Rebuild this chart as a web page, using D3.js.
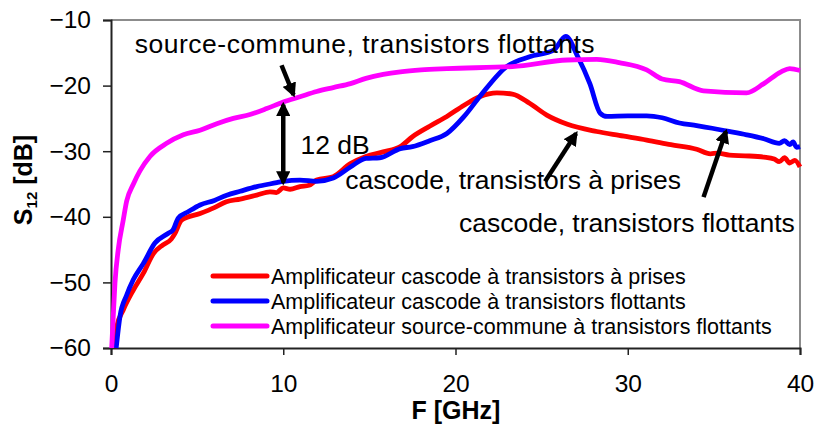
<!DOCTYPE html>
<html>
<head>
<meta charset="utf-8">
<script src="https://cdn.jsdelivr.net/npm/d3@7"></script>
<style>
  html, body { margin: 0; padding: 0; background: #fff; }
  svg { display: block; font-family: "Liberation Sans", Arial, sans-serif; }
</style>
</head>
<body>
<svg id="chart" width="816" height="427"></svg>
<script>
// ---- data ----
const xTicks = [0, 10, 20, 30, 40];
const yTicks = [-10, -20, -30, -40, -50, -60];

const seriesNames = [
  "Amplificateur cascode à transistors à prises",
  "Amplificateur cascode à transistors flottants",
  "Amplificateur source-commune à transistors flottants"
];
const seriesColors = ["#ff0000", "#0000ff", "#ff00ff"];

const redF = [0.23, 0.33, 0.71, 1.29, 1.88, 2.46, 3.0, 3.5, 3.7, 4.1, 5.17, 6.0, 6.7, 7.5, 8.46, 9.23, 9.6, 10.0, 10.4, 10.97, 11.5, 11.94, 12.9, 13.9, 14.8, 15.8, 16.8, 17.5, 18.5, 19.5, 20.5, 21.4, 22.4, 23.3, 24.3, 25.3, 26.5, 28.2, 29.5, 31.1, 32.5, 34.0, 34.8, 35.2, 35.9, 36.8, 37.9, 38.5, 38.8, 39.1, 39.4, 39.7, 40.0];
const redV = [-60, -56.8, -54.2, -51.2, -48.6, -45.6, -44.3, -43.4, -42.6, -40.5, -39.5, -38.6, -37.7, -37.3, -36.7, -36.2, -36.3, -35.6, -35.8, -35.4, -35.2, -34.4, -33.9, -31.9, -30.8, -30.1, -29.3, -27.8, -26.2, -24.7, -23.0, -21.7, -21.1, -21.3, -22.7, -24.5, -25.9, -27.0, -27.6, -28.3, -29.0, -29.7, -30.4, -30.3, -30.6, -30.7, -30.9, -31.2, -31.6, -31.0, -31.8, -31.4, -32.4];

const blueF = [0.3, 0.52, 0.9, 1.29, 1.88, 2.55, 3.33, 3.6, 3.9, 4.5, 5.17, 6.0, 6.72, 7.5, 8.46, 9.62, 10.0, 10.97, 11.94, 12.9, 13.9, 14.8, 15.6, 16.8, 17.5, 18.5, 19.5, 20.5, 21.4, 22.97, 24.3, 25.7, 26.4, 27.1, 27.8, 28.4, 28.8, 30.0, 31.1, 32.0, 33.0, 34.0, 34.9, 35.7, 36.9, 37.9, 38.8, 39.1, 39.4, 39.6, 39.8, 40.0];
const blueV = [-60, -55.2, -52.0, -49.6, -47.1, -44.0, -42.5, -42.0, -40.2, -39.2, -38.2, -37.5, -36.7, -36.1, -35.4, -34.8, -34.6, -34.4, -34.6, -34.1, -32.4, -31.1, -31.0, -29.6, -29.3, -28.4, -27.3, -24.7, -21.7, -17.1, -15.6, -14.6, -12.5, -15.6, -19.7, -24.2, -24.7, -24.6, -24.6, -24.9, -25.7, -26.1, -26.5, -26.9, -27.5, -28.1, -28.8, -28.4, -29.0, -28.6, -29.4, -29.3];

const magF = [0.04, 0.13, 0.23, 0.42, 0.71, 0.91, 1.3, 1.68, 2.26, 3.23, 4.2, 5.17, 6.14, 7.1, 8.07, 9.04, 10.0, 10.97, 11.94, 12.9, 13.9, 14.8, 15.8, 16.8, 18.0, 19.5, 23.3, 26.5, 28.2, 29.5, 31.1, 32.0, 33.0, 34.4, 36.9, 37.9, 38.9, 39.4, 40.0];
const magV = [-60, -55.2, -50.1, -45.0, -40.5, -37.6, -35.0, -33.0, -30.8, -28.8, -27.5, -26.8, -25.8, -25.0, -24.4, -23.5, -22.5, -21.7, -20.9, -20.3, -19.7, -18.9, -18.3, -17.9, -17.6, -17.4, -17.1, -16.1, -16.0, -16.5, -17.6, -19.0, -19.4, -20.8, -21.1, -19.7, -17.9, -17.4, -17.7];

// ---- layout ----
const svg = d3.select("#chart");
const mLeft = 111, mRight = 800, mTop = 20, mBottom = 348;

const x = d3.scaleLinear().domain([0, 40]).range([mLeft, mRight]);
const y = d3.scaleLinear().domain([-60, -10]).range([mBottom, mTop]);

// plot frame (top and right in grey)
svg.append("path")
  .attr("d", `M${mLeft},${mTop}H${mRight}V${mBottom}`)
  .attr("fill", "none").attr("stroke", "#8c8c8c").attr("stroke-width", 2);

// axes
const xAxis = svg.append("g").attr("transform", `translate(0,${mBottom})`)
  .call(d3.axisBottom(x).tickValues(xTicks).tickSize(7).tickPadding(20).tickFormat(d3.format("d")));
const yAxis = svg.append("g").attr("transform", `translate(${mLeft},0)`)
  .call(d3.axisLeft(y).tickValues(yTicks).tickSize(8).tickPadding(12).tickFormat(d3.format("d")));
[xAxis, yAxis].forEach(g => {
  g.select(".domain").attr("stroke", "#222").attr("stroke-width", 2);
  g.selectAll(".tick line").attr("stroke", "#222").attr("stroke-width", 1.5);
  g.selectAll("text").attr("font-size", 24.5).attr("fill", "#000")
    .attr("font-family", "'Liberation Sans', Arial, sans-serif");
});
xAxis.selectAll("text").attr("dy", "0.71em");

// axis titles
svg.append("text").attr("x", 456).attr("y", 419).attr("text-anchor", "middle")
  .attr("font-size", 25).attr("font-weight", "bold").text("F [GHz]");
const yt = svg.append("text")
  .attr("transform", "translate(32,180) rotate(-90)")
  .attr("text-anchor", "middle").attr("font-size", 25).attr("font-weight", "bold");
yt.append("tspan").text("S");
yt.append("tspan").attr("font-size", 15).attr("dy", 5).text("12");
yt.append("tspan").attr("dy", -5).text(" [dB]");

// series
const series = [
  { f: redF, v: redV },
  { f: blueF, v: blueV },
  { f: magF, v: magV }
];
const line = d3.line().x(d => x(d[0])).y(d => y(d[1])).curve(d3.curveMonotoneX);
[0, 1, 2].forEach(i => {
  const pts = series[i].f.map((f, k) => [f, series[i].v[k]]);
  svg.append("path").datum(pts)
    .attr("d", line)
    .attr("fill", "none")
    .attr("stroke", seriesColors[i])
    .attr("stroke-width", 4.8)
    .attr("stroke-linejoin", "round");
});

// legend
const legendY = [276, 301, 326];
seriesNames.forEach((name, i) => {
  svg.append("line").attr("x1", 213).attr("x2", 267)
    .attr("y1", legendY[i]).attr("y2", legendY[i])
    .attr("stroke", seriesColors[i]).attr("stroke-width", 5).attr("stroke-linecap", "round");
  svg.append("text").attr("x", 271).attr("y", legendY[i] + 7.5)
    .attr("font-size", 21.5).text(name);
});

// arrow markers
const defs = svg.append("defs");
defs.append("marker").attr("id", "ah").attr("viewBox", "0 0 10 10")
  .attr("refX", 8).attr("refY", 5).attr("markerWidth", 3.2).attr("markerHeight", 3.2)
  .attr("orient", "auto-start-reverse").attr("markerUnits", "strokeWidth")
  .append("path").attr("d", "M0,0L10,5L0,10z").attr("fill", "#000");

function arrow(f1, v1, f2, v2, both) {
  const p = svg.append("line")
    .attr("x1", x(f1)).attr("y1", y(v1)).attr("x2", x(f2)).attr("y2", y(v2))
    .attr("stroke", "#000").attr("stroke-width", 4.5)
    .attr("marker-end", "url(#ah)");
  if (both) p.attr("marker-start", "url(#ah)");
}

// annotations
const annText = [
  { t: "source-commune, transistors flottants", f: 1.38, v: -15.1, ls: 0.5 },
  { t: "12 dB", f: 11.0, v: -30.4, ls: 0 },
  { t: "cascode, transistors à prises", f: 13.6, v: -35.8, ls: 0 },
  { t: "cascode, transistors flottants", f: 20.2, v: -42.3, ls: 0 }
];
annText.forEach(a => svg.append("text").attr("x", x(a.f)).attr("y", y(a.v))
  .attr("font-size", 26.5).attr("letter-spacing", a.ls).attr("fill", "#000").text(a.t));

arrow(9.9, -16.9, 10.6, -21.4, false);
arrow(10.0, -22.9, 10.0, -34.8, true);
arrow(25.2, -34.6, 27.0, -27.3, false);
arrow(34.4, -37.0, 35.7, -27.0, false);
</script>
</body>
</html>
